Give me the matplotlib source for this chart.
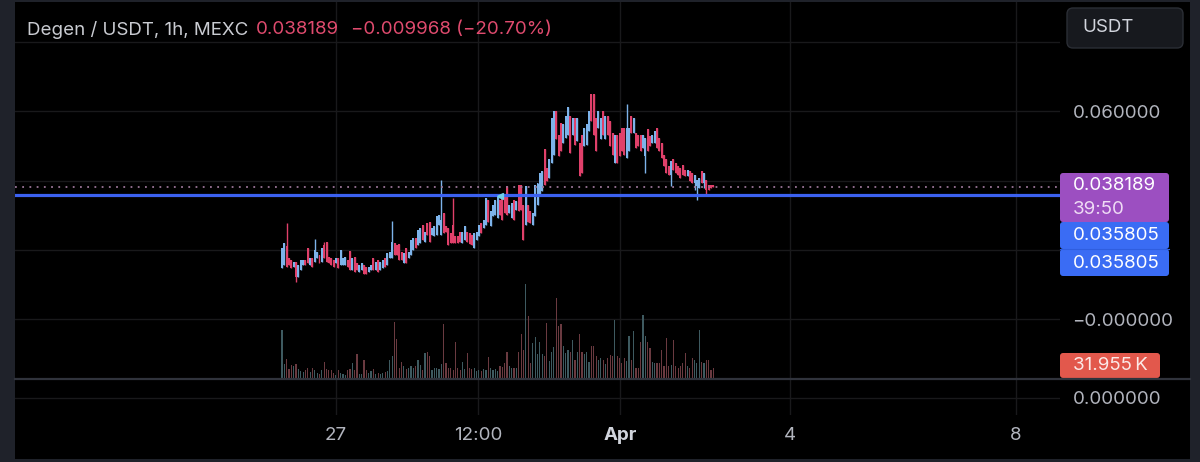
import numpy as np
import matplotlib
matplotlib.use("Agg")
import matplotlib.pyplot as plt
from matplotlib.patches import FancyBboxPatch

plt.rcParams["font.family"] = ["Inter", "DejaVu Sans"]

W, H = 1200, 462

# hourly OHLC, in 1e-3 USDT
opens = [14.7, 15.7, 21.0, 17.6, 17.1, 15.2, 16.6, 12.3, 14.2, 15.7,
         17.1, 20.5, 15.7, 17.6, 16.6, 17.6, 18.6, 16.6, 21.5, 22.4,
         18.1, 17.6, 17.1, 16.2, 17.6, 15.7, 15.7, 15.7, 17.1, 19.8,
         14.2, 18.1, 16.2, 13.7, 14.2, 15.7, 15.2, 13.7, 14.2, 17.6,
         14.2, 17.1, 14.2, 14.7, 17.6, 15.7, 17.6, 17.6, 21.9, 21.5,
         21.7, 19.5, 16.2, 20.5, 17.6, 18.6, 20.0, 23.4, 21.5, 21.9,
         27.3, 22.4, 27.7, 28.2, 24.4, 23.9, 24.4, 27.3, 24.4, 30.6,
         26.8, 26.3, 24.8, 27.3, 23.9, 23.9, 25.3, 21.9, 22.9, 25.3,
         24.8, 24.4, 20.5, 22.9, 23.9, 27.7, 26.3, 27.3, 34.5, 26.8,
         29.7, 30.2, 29.2, 34.5, 35.9, 35.5, 38.4, 30.6, 29.2, 34.5,
         31.6, 38.8, 38.8, 33.1, 27.3, 33.1, 31.1, 27.3, 29.7, 33.1,
         35.9, 36.9, 49.0, 43.7, 40.8, 45.1, 47.5, 60.1, 53.3, 56.7,
         50.9, 52.4, 53.3, 58.6, 53.3, 58.2, 51.4, 50.9, 53.3, 50.0,
         50.4, 54.3, 65.1, 64.9, 58.2, 55.3, 51.9, 60.1, 51.9, 58.6,
         57.2, 53.8, 45.1, 53.3, 53.8, 55.3, 55.3, 46.6, 48.5, 58.6,
         53.8, 53.8, 53.3, 53.3, 49.5, 47.0, 54.8, 52.9, 50.9, 50.9,
         55.3, 52.4, 50.9, 47.5, 46.1, 44.2, 41.7, 46.1, 45.1, 44.2,
         43.7, 44.6, 43.2, 41.3, 42.7, 42.2, 39.3, 38.4, 37.9, 42.7,
         39.3, 40.3, 38.8, 38.8, 38.8]
closes = [20.5, 21.9, 15.2, 15.7, 14.7, 16.6, 12.3, 15.7, 17.1, 17.1,
          15.7, 16.2, 17.6, 15.2, 20.0, 19.5, 16.2, 20.5, 17.6, 16.6,
          16.2, 15.7, 15.2, 17.6, 14.7, 20.0, 17.6, 18.1, 15.2, 14.2,
          17.6, 13.7, 14.2, 15.7, 16.2, 13.2, 13.0, 15.2, 15.7, 14.2,
          16.6, 13.7, 16.6, 17.1, 15.2, 19.0, 19.5, 22.4, 18.6, 18.6,
          17.1, 17.1, 19.0, 16.2, 19.5, 22.9, 23.4, 20.5, 25.8, 26.3,
          22.9, 25.3, 24.4, 22.4, 26.3, 26.8, 29.7, 30.2, 28.7, 24.8,
          25.3, 21.5, 21.9, 21.9, 21.9, 21.9, 22.4, 25.3, 26.8, 22.4,
          21.7, 21.5, 24.8, 25.3, 27.3, 24.8, 28.7, 35.0, 28.2, 31.1,
          33.1, 34.5, 35.5, 30.2, 28.7, 30.6, 30.2, 33.1, 33.5, 28.7,
          34.0, 31.1, 31.6, 22.9, 38.4, 28.2, 27.7, 30.6, 38.8, 39.3,
          42.2, 42.7, 38.8, 39.8, 46.1, 58.2, 60.1, 51.9, 47.1, 48.5,
          56.2, 58.6, 61.1, 48.0, 58.2, 50.4, 58.2, 41.3, 42.2, 55.3,
          56.2, 60.1, 57.2, 53.3, 48.5, 60.1, 58.2, 53.3, 58.6, 53.3,
          50.0, 47.5, 53.3, 45.1, 47.1, 48.5, 47.5, 55.3, 55.3, 53.8,
          58.2, 49.5, 50.0, 48.5, 53.3, 52.4, 48.5, 50.0, 53.3, 54.3,
          49.5, 48.5, 46.6, 44.2, 42.2, 41.7, 45.6, 43.2, 42.2, 41.7,
          40.8, 41.7, 41.3, 43.2, 39.8, 39.3, 41.7, 40.3, 40.8, 39.3,
          42.2, 37.4, 37.4, 37.9, 38.189]
highs = [20.5, 21.9, 27.7, 17.6, 17.1, 16.6, 16.6, 15.7, 17.1, 17.1,
         17.1, 20.5, 17.6, 17.6, 23.2, 19.5, 18.6, 20.5, 22.4, 22.4,
         18.1, 17.6, 17.1, 17.6, 17.6, 20.0, 17.6, 18.1, 17.1, 19.8,
         17.6, 18.1, 16.2, 15.7, 16.2, 15.7, 15.2, 15.2, 15.7, 17.6,
         16.6, 17.1, 16.6, 17.1, 17.6, 19.0, 19.5, 28.4, 21.9, 21.5,
         21.7, 19.5, 19.0, 20.5, 19.5, 22.9, 23.4, 23.4, 25.8, 26.3,
         27.3, 25.3, 27.7, 28.2, 26.3, 26.8, 29.7, 30.2, 40.1, 30.6,
         26.8, 26.3, 24.8, 35.0, 23.9, 23.9, 25.3, 25.3, 26.8, 25.3,
         24.8, 24.4, 24.8, 25.3, 27.3, 27.7, 28.7, 35.0, 34.5, 31.1,
         33.1, 34.5, 35.5, 34.5, 35.9, 35.5, 38.4, 33.1, 33.5, 34.5,
         34.0, 38.8, 38.8, 33.1, 38.4, 33.1, 31.1, 30.6, 38.8, 39.3,
         42.2, 42.7, 49.0, 43.7, 46.1, 58.2, 60.1, 60.1, 53.3, 56.7,
         56.2, 58.6, 61.1, 58.6, 58.2, 58.2, 58.2, 50.9, 53.3, 55.3,
         56.2, 60.1, 65.1, 64.9, 58.2, 60.1, 58.2, 60.1, 58.6, 58.6,
         57.2, 53.8, 53.3, 53.3, 53.8, 55.3, 55.3, 62.2, 55.3, 58.6,
         58.2, 53.8, 53.3, 53.3, 53.3, 52.4, 54.8, 52.9, 53.3, 54.3,
         55.3, 52.4, 50.9, 47.5, 46.1, 44.2, 45.6, 46.1, 45.1, 44.2,
         43.7, 44.6, 43.2, 43.2, 42.7, 42.2, 41.7, 40.3, 40.8, 42.7,
         42.2, 40.3, 38.8, 38.8, 38.8]
lows = [14.7, 15.7, 15.2, 15.7, 14.7, 15.2, 10.8, 12.3, 14.2, 15.7,
        15.7, 16.2, 15.7, 15.2, 16.6, 17.6, 16.2, 16.6, 17.6, 16.6,
        16.2, 15.7, 15.2, 16.2, 14.7, 15.7, 15.7, 15.7, 15.2, 14.2,
        14.2, 13.7, 14.2, 13.7, 14.2, 13.2, 13.0, 13.7, 14.2, 14.2,
        14.2, 13.7, 14.2, 14.7, 15.2, 15.7, 17.6, 17.6, 18.6, 18.6,
        17.1, 17.1, 16.2, 16.2, 17.6, 18.6, 20.0, 20.5, 21.5, 21.9,
        22.9, 22.4, 24.4, 22.4, 24.4, 23.9, 24.4, 27.3, 24.4, 24.8,
        25.3, 21.5, 21.9, 21.9, 21.9, 21.9, 22.4, 21.9, 22.9, 22.4,
        21.7, 21.5, 20.5, 22.9, 23.9, 24.8, 26.3, 27.3, 28.2, 26.8,
        29.7, 30.2, 29.2, 30.2, 28.7, 30.6, 30.2, 30.6, 29.2, 28.7,
        31.6, 31.1, 31.6, 22.9, 27.3, 28.2, 27.7, 27.3, 29.7, 33.1,
        35.9, 36.9, 38.8, 39.8, 40.8, 45.1, 47.5, 51.9, 47.1, 48.5,
        50.9, 52.4, 53.3, 48.0, 53.3, 50.4, 51.4, 41.3, 42.2, 50.0,
        50.4, 54.3, 57.2, 53.3, 48.5, 55.3, 51.9, 53.3, 51.9, 53.3,
        50.0, 47.5, 45.1, 45.1, 47.1, 48.5, 47.5, 46.6, 48.5, 53.8,
        53.8, 49.5, 50.0, 48.5, 49.5, 42.2, 48.5, 50.0, 50.9, 50.9,
        49.5, 48.5, 46.6, 44.2, 42.2, 41.7, 38.4, 43.2, 42.2, 41.7,
        40.8, 41.7, 41.3, 41.3, 39.8, 39.3, 37.4, 34.5, 37.9, 39.3,
        37.9, 35.9, 37.4, 37.9, 38.189]
# volume in K
volumes = [154, 45, 61, 29, 42, 38, 45, 29, 22, 19,
           26, 32, 19, 32, 26, 16, 13, 26, 51, 29,
           26, 26, 16, 10, 26, 16, 13, 10, 26, 29,
           48, 26, 77, 13, 13, 58, 26, 16, 22, 29,
           13, 16, 13, 16, 19, 22, 58, 70, 179, 125,
           32, 51, 38, 29, 32, 38, 32, 38, 58, 42,
           26, 80, 83, 70, 26, 32, 32, 29, 45, 173,
           48, 32, 32, 26, 115, 32, 26, 51, 29, 80,
           32, 29, 32, 22, 26, 22, 29, 26, 67, 32,
           26, 29, 22, 38, 35, 48, 83, 38, 32, 32,
           32, 83, 141, 90, 301, 198, 48, 112, 131, 77,
           115, 77, 70, 176, 54, 83, 99, 256, 166, 173,
           102, 80, 90, 83, 122, 58, 83, 141, 83, 77,
           83, 51, 102, 102, 70, 58, 64, 58, 45, 64,
           74, 70, 186, 70, 64, 48, 64, 54, 134, 58,
           150, 32, 32, 115, 202, 134, 115, 96, 51, 48,
           48, 48, 90, 38, 128, 38, 42, 122, 38, 32,
           38, 48, 80, 38, 32, 64, 58, 48, 154, 51,
           48, 58, 58, 26, 31.955]

tick_pos = [23.0, 83.6, 144.2, 216.7, 313.1]
tick_labels = ["27", "12:00", "Apr", "4", "8"]
price_grid = [0.08, 0.06, 0.04, 0.02, 0.00]
price_labels = ["", "0.060000", "", "", "\u22120.000000"]
line_price = 0.035805
alert_mark = (93, 0.0357)
countdown = "39:50"
change_text = "\u22120.009968 (\u221220.70%)"

o = np.array(opens) / 1000
c = np.array(closes) / 1000
hi = np.array(highs) / 1000
lo = np.array(lows) / 1000
vol = np.array(volumes)
x = np.arange(len(o))
last_price = c[-1]

UP, DOWN = "#7db3ea", "#e0406a"
VUP, VDOWN = "#3e5a60", "#6a3a40"
GRID = "#19191b"
TXT = "#b2b5be"
up = c >= o
cols = np.where(up, UP, DOWN)
vcols = np.where(up, VUP, VDOWN)


def box(x0, y0, x1, y1):
    return [x0 / W, 1 - y1 / H, (x1 - x0) / W, (y1 - y0) / H]


fig = plt.figure(figsize=(12, 4.62), dpi=100, facecolor="#1f222a")

bg = fig.add_axes(box(15, 2, 1190, 459), zorder=-5)
bg.set_facecolor("black")
bg.set_xticks([])
bg.set_yticks([])
for s in bg.spines.values():
    s.set_visible(False)

# price pane
ax = fig.add_axes(box(15, 2, 1060, 379))
ax.set_facecolor("none")
xlim = (-113.9, 331.9)
ax.set_xlim(*xlim)
ax.set_ylim(-0.01722, 0.09152)

ax.vlines(x, lo, hi, colors=cols, lw=1.0, zorder=3)
ax.bar(x, np.maximum(np.abs(c - o), 0.0002), bottom=np.minimum(o, c),
       width=0.85, color=cols, zorder=3)
ax.axhline(line_price, color="#3b61f0", lw=2.3, zorder=4)
ax.axhline(last_price, color="#9a7598", lw=1.3, ls=(0, (1, 3)), zorder=4)
ax.plot([alert_mark[0]], [alert_mark[1]], marker="<", ms=5, color="#6fd0e8", zorder=5)

# volume overlay
vax = ax.twinx()
vax.set_xlim(*xlim)
vax.set_ylim(-4.2, 1202)
vax.bar(x, vol, width=0.5, color=vcols)
vax.axis("off")

ax.set_xticks(tick_pos)
ax.set_yticks(price_grid)
ax.set_yticklabels(price_labels)
ax.yaxis.tick_right()
ax.tick_params(axis="x", length=0, labelbottom=False)
ax.tick_params(axis="y", length=0, pad=9, labelsize=13.5, labelcolor=TXT,
               labelleft=False, labelright=True)
ax.grid(True, color=GRID, lw=1)
for s in ax.spines.values():
    s.set_visible(False)

# lower pane
pane = fig.add_axes(box(15, 380, 1060, 415))
pane.set_facecolor("none")
pane.set_xlim(*xlim)
pane.set_ylim(-1, 1)
pane.set_xticks(tick_pos)
pane.set_xticklabels(tick_labels)
pane.set_yticks([0])
pane.set_yticklabels(["0.000000"])
pane.yaxis.tick_right()
pane.tick_params(axis="x", length=0, pad=9, labelsize=13.5, labelcolor=TXT)
pane.tick_params(axis="y", length=0, pad=9, labelsize=13.5, labelcolor=TXT)
pane.grid(True, color=GRID, lw=1)
for s in pane.spines.values():
    s.set_visible(False)
for t in pane.get_xticklabels():
    if t.get_text() == "Apr":
        t.set_fontweight("bold")
        t.set_color("#d1d4dc")

# overlay in pixel coordinates
ov = fig.add_axes([0, 0, 1, 1], zorder=10)
ov.set_xlim(0, W)
ov.set_ylim(H, 0)
ov.axis("off")
ov.plot([15, 1190], [379, 379], color="#30333c", lw=1.6)


def badge(x0, y0, x1, y1, color):
    ov.add_patch(FancyBboxPatch((x0, y0), x1 - x0, y1 - y0,
                                boxstyle="round,pad=0,rounding_size=3",
                                fc=color, ec="none", mutation_aspect=1))


badge(1060, 173, 1169, 222, "#9c4fc1")
badge(1060, 222, 1169, 249, "#3a6cf4")
badge(1060, 249, 1169, 276, "#3a6cf4")
badge(1060, 353, 1160, 378, "#e2584c")
ov.plot([1060, 1169], [249, 249], color="#2f5ee0", lw=0.8)

bfs = 13.5
ov.text(1073, 186, f"{last_price:.6f}", color="white", fontsize=bfs, va="center")
ov.text(1073, 209, countdown, color="#efdcf5", fontsize=bfs, va="center")
ov.text(1073, 236, f"{line_price:.6f}", color="white", fontsize=bfs, va="center")
ov.text(1073, 263, f"{line_price:.6f}", color="white", fontsize=bfs, va="center")
ov.text(1073, 366, f"{vol[-1]:.3f}\u2009K", color="#fbe9e7", fontsize=bfs, va="center")

ov.add_patch(FancyBboxPatch((1067, 8), 116, 40, boxstyle="round,pad=0,rounding_size=6",
                            fc="#17191e", ec="#2b2e35", lw=1))
ov.text(1082, 28, "USDT", color="#d1d4dc", fontsize=13.5, va="center")

ov.text(27, 30, "Degen / USDT, 1h, MEXC", color="#c9cbd1", fontsize=13.5, va="center")
ov.text(256, 30, f"{last_price:.6f}", color="#e04b6e", fontsize=13.5, va="center")
ov.text(351, 30, change_text, color="#e04b6e", fontsize=13.5, va="center")

fig.savefig("out.png", dpi=100, facecolor=fig.get_facecolor())
